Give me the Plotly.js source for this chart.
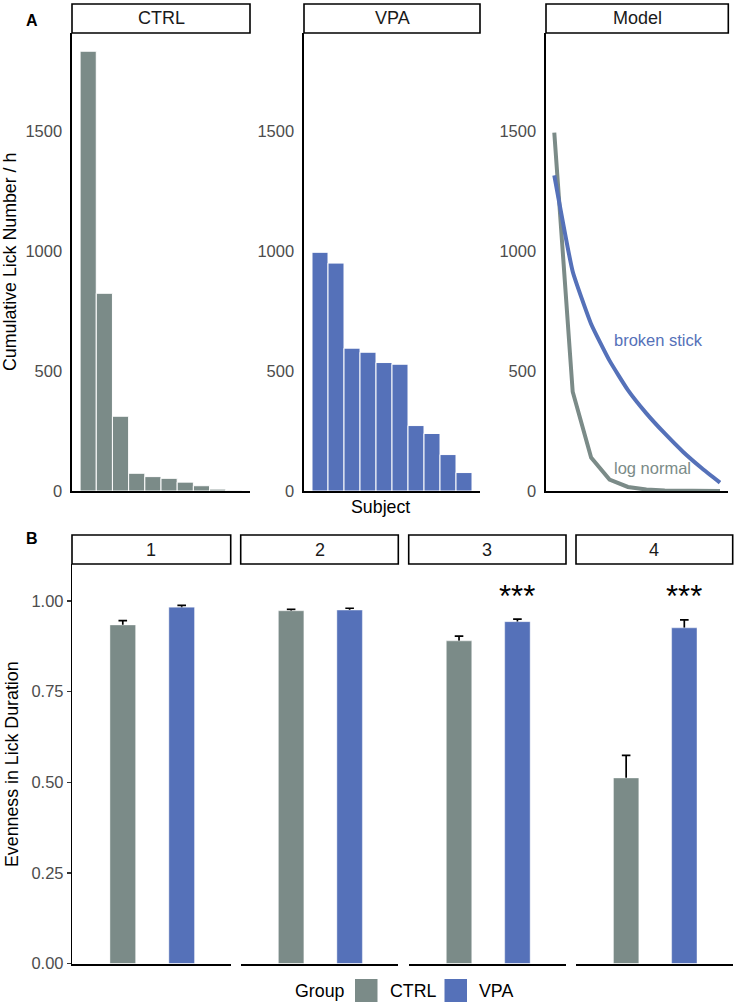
<!DOCTYPE html>
<html><head><meta charset="utf-8">
<script src="https://cdn.plot.ly/plotly-3.0.1.min.js"></script>
<style>html,body{margin:0;padding:0;background:#fff}#chart{width:738px;height:1006px}</style>
</head><body><div id="chart"></div>
<script>
// ---------- data ----------
const subjectRank = [1, 2, 3, 4, 5, 6, 7, 8, 9, 10];
const ctrlLicks = [1835, 825, 312, 74, 60, 53, 37, 22, 8, 3];
const vpaLicks = [996, 951, 596, 579, 536, 529, 273, 240, 152, 77];
const logNormal = [1495, 414, 140, 48, 17, 6, 2, 1, 0.5, 0.2];
const brokenStick = [1317, 916, 697, 544, 421, 324, 240, 163, 96, 35];
const panelsA = ['CTRL', 'VPA', 'Model'];
const yTicksA = [0, 500, 1000, 1500];

const phases = ['1', '2', '3', '4'];
const groups = ['CTRL', 'VPA'];
const ctrlEven = [0.934, 0.973, 0.890, 0.512];
const ctrlSE = [0.012, 0.004, 0.013, 0.062];
const vpaEven = [0.983, 0.975, 0.943, 0.926];
const vpaSE = [0.005, 0.005, 0.007, 0.022];
const sigLabels = ['', '', '***', '***'];
const yTicksB = [0, 0.25, 0.5, 0.75, 1.0];
const yTickTextB = ['0.00', '0.25', '0.50', '0.75', '1.00'];

// ---------- styling ----------
const W = 738, H = 1006;
const GRAY = '#7B8B88', BLUE = '#5571B9';
const FONT = 'Liberation Sans, Arial, Helvetica, sans-serif';
const fx = x => x / W;
const fy = y => 1 - y / H;

const aX = [[72, 250], [304, 480], [546, 728.3]];
const aY = [33, 491];
const bX = [[72, 230.7], [240.7, 398.3], [408.7, 566], [576, 732.7]];
const bY = [564, 963.6];

const traces = [];
traces.push({type: 'bar', x: subjectRank, y: ctrlLicks, xaxis: 'x', yaxis: 'y', width: 1,
  marker: {color: GRAY, line: {color: 'white', width: 1}}, hoverinfo: 'x+y'});
traces.push({type: 'bar', x: subjectRank, y: vpaLicks, xaxis: 'x2', yaxis: 'y2', width: 1,
  marker: {color: BLUE, line: {color: 'white', width: 1}}, hoverinfo: 'x+y'});
traces.push({type: 'scatter', mode: 'lines', x: subjectRank, y: logNormal, xaxis: 'x3', yaxis: 'y3',
  line: {color: GRAY, width: 4}, name: 'log normal'});
traces.push({type: 'scatter', mode: 'lines', x: subjectRank, y: brokenStick, xaxis: 'x3', yaxis: 'y3',
  line: {color: BLUE, width: 4, shape: 'spline', smoothing: 0.4}, name: 'broken stick'});

phases.forEach((p, i) => {
  const xa = 'x' + (4 + i), ya = 'y' + (4 + i);
  const yv = [ctrlEven[i], vpaEven[i]];
  // error bars first (drawn underneath the bars)
  traces.push({type: 'bar', x: groups, y: yv, xaxis: xa, yaxis: ya, width: 0.436,
    marker: {color: 'rgba(0,0,0,0)'}, hoverinfo: 'skip',
    error_y: {type: 'data', array: [ctrlSE[i], vpaSE[i]], visible: true, color: 'black', thickness: 1.7, width: 4.3}});
  traces.push({type: 'bar', x: groups, y: yv, xaxis: xa, yaxis: ya, width: 0.436,
    marker: {color: [GRAY, BLUE], line: {color: 'rgba(255,255,255,0.7)', width: 0.6}}});
});

const layout = {
  width: W, height: H, margin: {l: 0, r: 0, t: 0, b: 0},
  paper_bgcolor: 'white', plot_bgcolor: 'white', showlegend: false, barmode: 'overlay',
  font: {family: FONT, color: '#000'},
  shapes: [], annotations: []
};

// panel A axes
aX.forEach((d, i) => {
  const s = i === 0 ? '' : String(i + 1);
  layout['xaxis' + s] = {domain: [fx(d[0]), fx(d[1])], anchor: 'y' + s,
    range: i === 2 ? [0.55, 10.45] : [0, 11],
    showline: true, linecolor: 'black', linewidth: 1.6, showgrid: false, zeroline: false,
    ticks: '', showticklabels: false, fixedrange: true};
  layout['yaxis' + s] = {domain: [fy(aY[1]), fy(aY[0])], anchor: 'x' + s, range: [0, 1911],
    tickvals: yTicksA, ticktext: yTicksA.map(String),
    showline: true, linecolor: 'black', linewidth: 1.6, showgrid: false, zeroline: false,
    ticks: 'outside', ticklen: 5, tickcolor: 'rgba(0,0,0,0)',
    tickfont: {size: 16.5, color: '#4D4D4D', family: FONT}};
  layout.shapes.push({type: 'rect', xref: 'paper', yref: 'paper',
    x0: fx(d[0]), x1: fx(d[1]), y0: fy(33), y1: fy(4),
    line: {color: 'black', width: 1.6}, fillcolor: 'white'});
  layout.annotations.push({xref: 'paper', yref: 'paper', x: fx((d[0] + d[1]) / 2), y: fy(18.5),
    text: panelsA[i], showarrow: false, xanchor: 'center', yanchor: 'middle',
    font: {size: 18, color: '#1A1A1A'}});
});

// panel B axes
bX.forEach((d, i) => {
  const s = String(4 + i);
  layout['xaxis' + s] = {domain: [fx(d[0]), fx(d[1])], anchor: 'y' + s,
    type: 'category', categoryorder: 'array', categoryarray: groups, range: [-0.862, 1.832],
    showline: true, linecolor: 'black', linewidth: 2, showgrid: false, zeroline: false,
    ticks: '', showticklabels: false, fixedrange: true};
  const ya = {domain: [fy(bY[1]), fy(bY[0])], anchor: 'x' + s, range: [0, 1.102],
    showgrid: false, zeroline: false};
  if (i === 0) {
    Object.assign(ya, {tickvals: yTicksB, ticktext: yTickTextB, showline: true, linecolor: 'black',
      linewidth: 1.2, ticks: 'outside', ticklen: 4, tickwidth: 1.2, tickcolor: '#333',
      tickfont: {size: 16.5, color: '#4D4D4D', family: FONT}});
  } else {
    Object.assign(ya, {showline: false, ticks: '', showticklabels: false});
  }
  layout['yaxis' + s] = ya;
  layout.shapes.push({type: 'rect', xref: 'paper', yref: 'paper',
    x0: fx(d[0]), x1: fx(d[1]), y0: fy(564), y1: fy(535),
    line: {color: 'black', width: 1.6}, fillcolor: 'white'});
  layout.annotations.push({xref: 'paper', yref: 'paper', x: fx((d[0] + d[1]) / 2), y: fy(549.5),
    text: phases[i], showarrow: false, xanchor: 'center', yanchor: 'middle',
    font: {size: 18, color: '#1A1A1A'}});
  if (sigLabels[i]) {
    layout.annotations.push({xref: 'x' + s, yref: 'y' + s, x: 'VPA', y: 1.012,
      text: sigLabels[i], showarrow: false, xanchor: 'center', yanchor: 'middle',
      font: {size: 31, color: '#000'}});
  }
});

// model labels
layout.annotations.push({xref: 'x3', yref: 'y3', x: 4.11, y: 630, text: 'broken stick', showarrow: false,
  xanchor: 'left', yanchor: 'middle', font: {size: 16.5, color: BLUE}});
layout.annotations.push({xref: 'x3', yref: 'y3', x: 4.11, y: 95, text: 'log normal', showarrow: false,
  xanchor: 'left', yanchor: 'middle', font: {size: 16.5, color: GRAY}});

// panel letters and titles
layout.annotations.push({xref: 'paper', yref: 'paper', x: fx(32), y: fy(20), text: '<b>A</b>',
  showarrow: false, xanchor: 'center', yanchor: 'middle', font: {size: 16}});
layout.annotations.push({xref: 'paper', yref: 'paper', x: fx(32), y: fy(538), text: '<b>B</b>',
  showarrow: false, xanchor: 'center', yanchor: 'middle', font: {size: 16}});
layout.annotations.push({xref: 'paper', yref: 'paper', x: fx(10), y: fy(262), text: 'Cumulative Lick Number / h',
  textangle: -90, showarrow: false, xanchor: 'center', yanchor: 'middle', font: {size: 17.8}});
layout.annotations.push({xref: 'paper', yref: 'paper', x: fx(12), y: fy(764), text: 'Evenness in Lick Duration',
  textangle: -90, showarrow: false, xanchor: 'center', yanchor: 'middle', font: {size: 17.8}});
layout.annotations.push({xref: 'paper', yref: 'paper', x: fx(380), y: fy(507), text: 'Subject',
  showarrow: false, xanchor: 'center', yanchor: 'middle', font: {size: 17.8}});

// legend
layout.annotations.push({xref: 'paper', yref: 'paper', x: fx(320), y: fy(991), text: 'Group',
  showarrow: false, xanchor: 'center', yanchor: 'middle', font: {size: 17.8}});
layout.shapes.push({type: 'rect', xref: 'paper', yref: 'paper', x0: fx(355), x1: fx(377.5),
  y0: fy(1002), y1: fy(979), fillcolor: GRAY, line: {width: 0}});
layout.annotations.push({xref: 'paper', yref: 'paper', x: fx(388), y: fy(991), text: groups[0],
  showarrow: false, xanchor: 'left', yanchor: 'middle', font: {size: 17.8}});
layout.shapes.push({type: 'rect', xref: 'paper', yref: 'paper', x0: fx(444.5), x1: fx(467),
  y0: fy(1002), y1: fy(979), fillcolor: BLUE, line: {width: 0}});
layout.annotations.push({xref: 'paper', yref: 'paper', x: fx(477), y: fy(991), text: groups[1],
  showarrow: false, xanchor: 'left', yanchor: 'middle', font: {size: 17.8}});

Plotly.newPlot('chart', traces, layout, {displayModeBar: false, staticPlot: true});
</script>
</body></html>
